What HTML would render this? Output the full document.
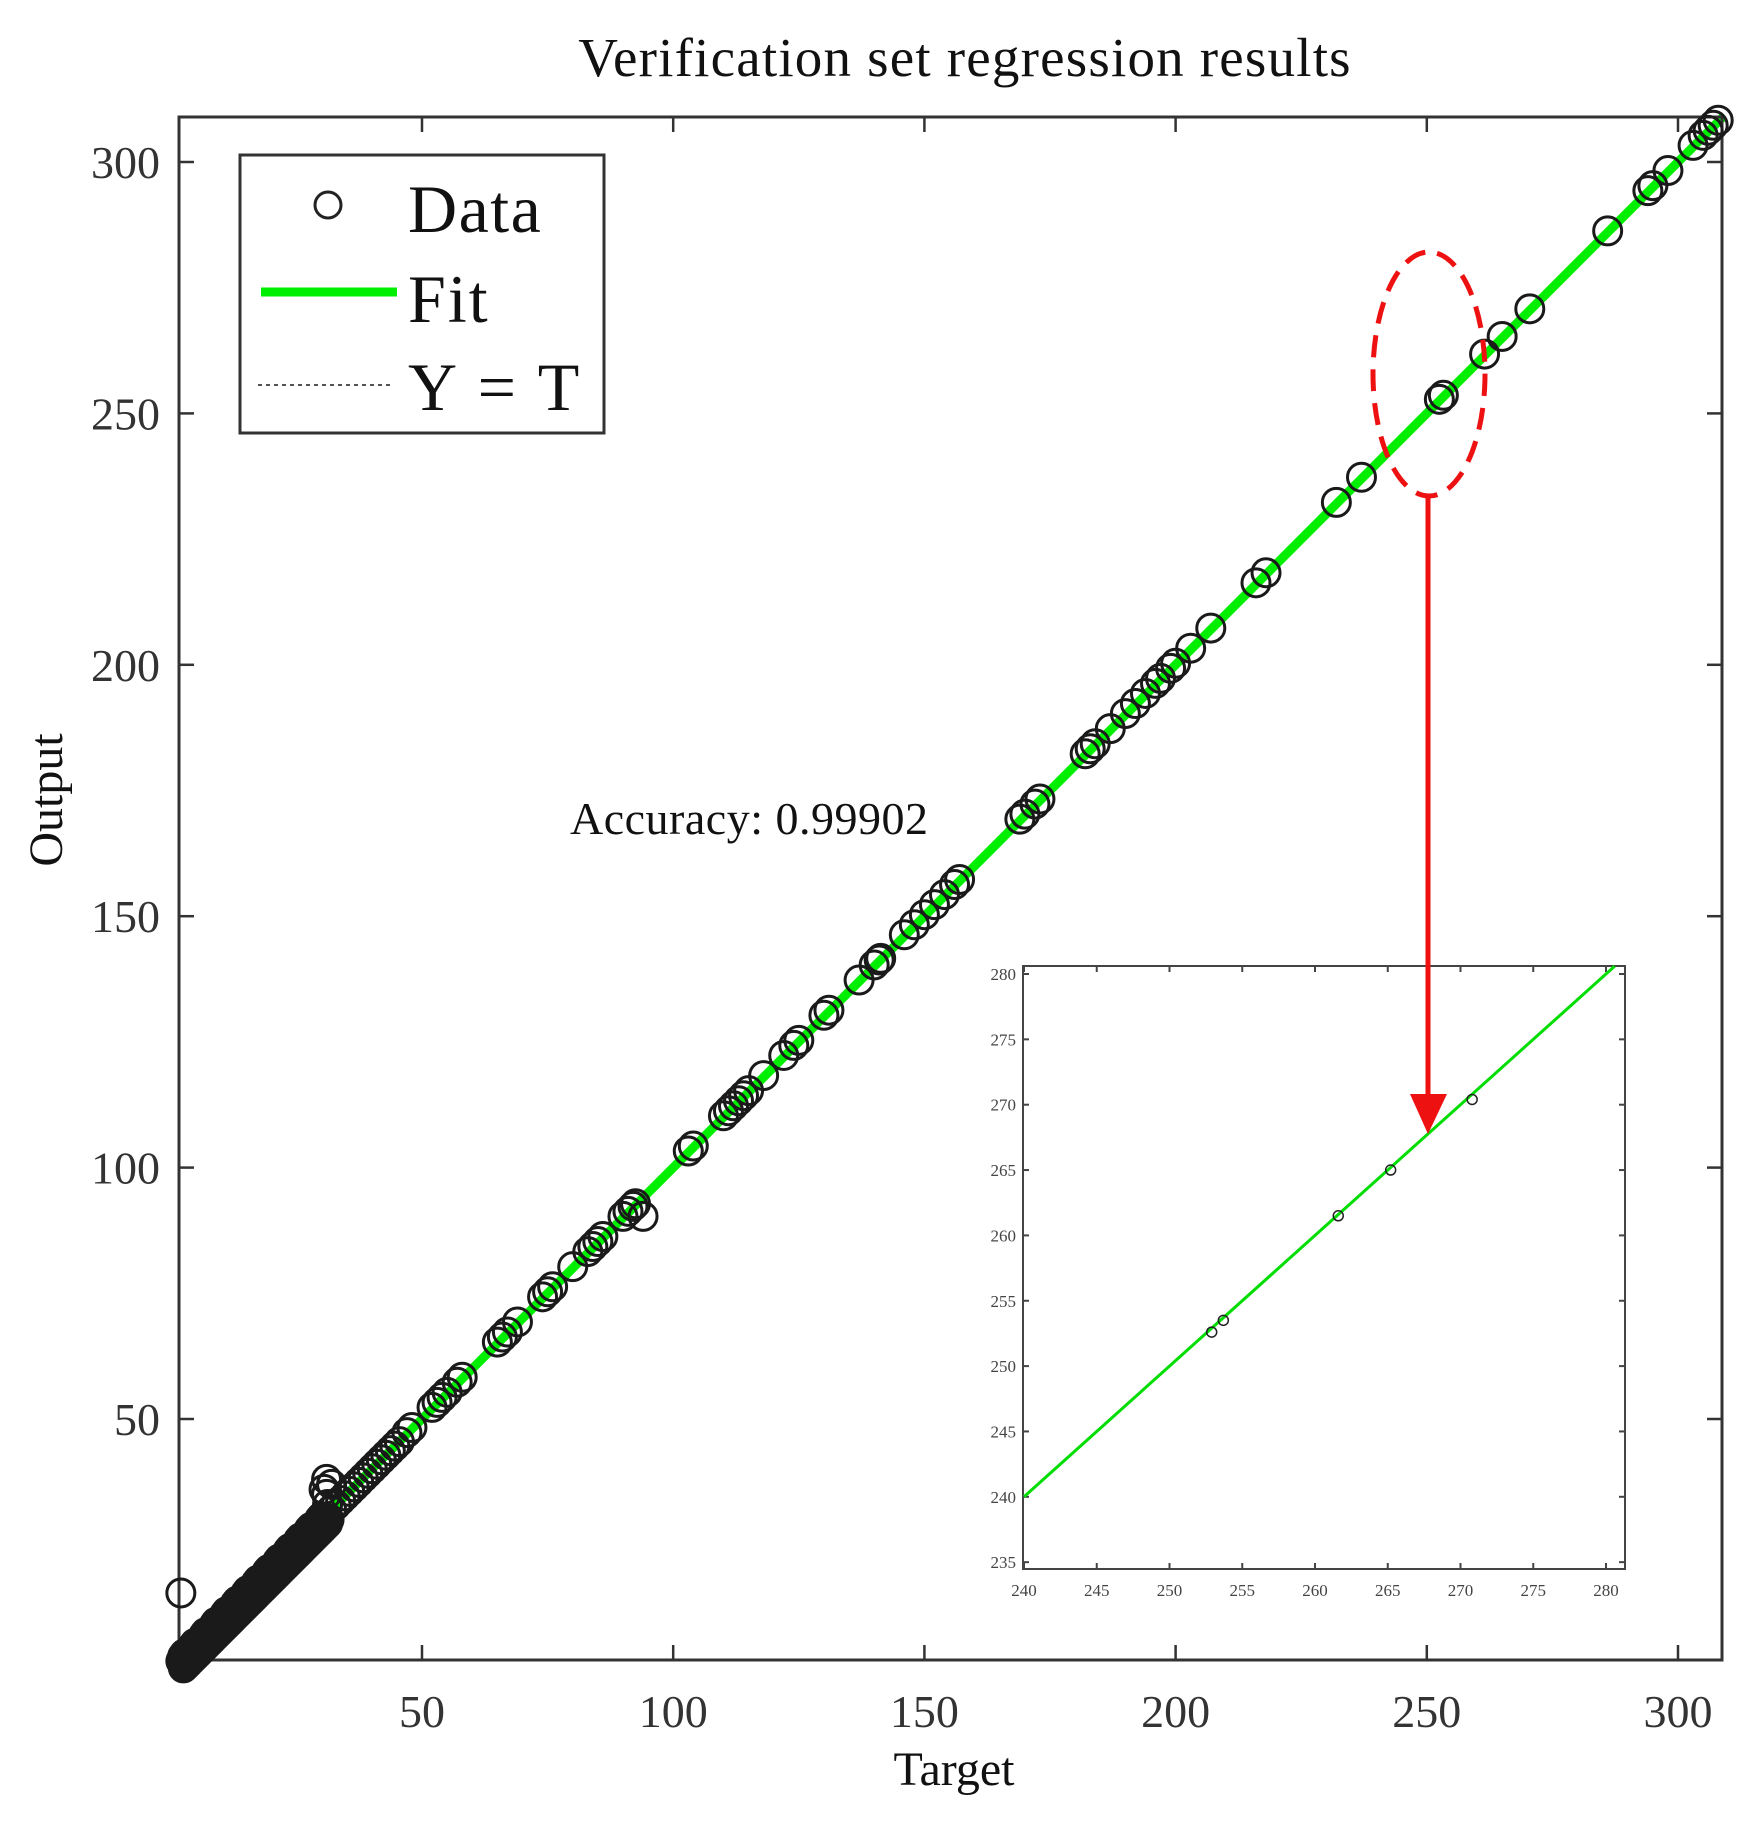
<!DOCTYPE html>
<html><head><meta charset="utf-8"><style>
html,body{margin:0;padding:0;background:#fff;}
svg{display:block;}
text{font-family:"Liberation Serif",serif;}
</style></head><body>
<svg id="s" width="1764" height="1822" viewBox="0 0 1764 1822" xmlns="http://www.w3.org/2000/svg">
<text x="965" y="76" font-size="55" text-anchor="middle" fill="#111" letter-spacing="1.2">Verification set regression results</text>
<g id="main"></g>
<rect x="179" y="117" width="1543" height="1543" fill="none" stroke="#333" stroke-width="3"/>
<g id="ticks" stroke="#333" stroke-width="2.5"></g>
<g id="labels" font-size="46" fill="#333"></g>
<text x="954" y="1785" font-size="48" text-anchor="middle" fill="#111">Target</text>
<text transform="translate(62,800) rotate(-90)" font-size="48" text-anchor="middle" fill="#111">Output</text>
<text x="570" y="834" font-size="46" fill="#111" letter-spacing="0.5">Accuracy: 0.99902</text>
<g id="pts"></g>
<rect x="240" y="155" width="364" height="278" fill="#fff" stroke="#333" stroke-width="3"/>
<circle cx="328" cy="205" r="13" fill="none" stroke="#222" stroke-width="3"/>
<text x="408" y="232" font-size="68" fill="#111" letter-spacing="1.5">Data</text>
<line x1="261" y1="292" x2="397" y2="292" stroke="#00ee00" stroke-width="9"/>
<text x="408" y="322" font-size="68" fill="#111" letter-spacing="2">Fit</text>
<line x1="258" y1="385" x2="390" y2="385" stroke="#555" stroke-width="2" stroke-dasharray="4,4"/>
<text x="408" y="410" font-size="68" fill="#111" letter-spacing="3">Y = T</text>
<rect x="1023" y="966" width="602" height="603" fill="#fff" stroke="#444" stroke-width="2"/>
<g id="inset"></g>
<ellipse cx="1429" cy="374" rx="56" ry="122" fill="none" stroke="#ee1111" stroke-width="5" stroke-dasharray="22,12"/>
<line x1="1428" y1="494" x2="1428" y2="1100" stroke="#ee1111" stroke-width="5"/>
<polygon points="1410,1094 1447,1094 1428,1134" fill="#ee1111"/>
</svg>
<script>
var NS="http://www.w3.org/2000/svg";
function el(p,t,a,txt){var e=document.createElementNS(NS,t);for(var k in a)e.setAttribute(k,a[k]);if(txt!==undefined)e.textContent=txt;document.getElementById(p).appendChild(e);return e;}
function X(v){return 170.8+v*5.024;}
function Y(v){return 162+(300-v)*5.028;}
for(var v=50;v<=300;v+=50){
 el("ticks","line",{x1:X(v),y1:1660,x2:X(v),y2:1645});
 el("ticks","line",{x1:X(v),y1:117,x2:X(v),y2:132});
 el("ticks","line",{x1:179,y1:Y(v),x2:194,y2:Y(v)});
 el("ticks","line",{x1:1722,y1:Y(v),x2:1707,y2:Y(v)});
 el("labels","text",{x:X(v),y:1727,"text-anchor":"middle"},String(v));
 el("labels","text",{x:160,y:Y(v)+16,"text-anchor":"end"},String(v));
}
el("main","line",{x1:X(2),y1:Y(2),x2:X(309),y2:Y(309),stroke:"#00ee00","stroke-width":9});
var P=[[2,15.4],[31,38],[31,35],[31.5,30],[32,37],[30.5,36],[31.2,33]];
for(var t=2;t<=31;t+=0.35){P.push([t,t+(Math.sin(t*3)*0.6)]);P.push([t+0.2,t-0.4]);P.push([t+0.5,t-1.5]);}
for(var t=32;t<=46;t+=0.9)P.push([t,t]);
[47,48,52,53,54,55,57,58,65,66,67,69,74,75,76,80,83,84,85,86,90,91,92,92.5,103,104,110,111,112,113,114,115,118,122,124,125,130,131,137,140,141,141.3,146,148,150,152,154,156,157,169,170,172,173,182,183,184,187,190,192,194,196,197,199,200,203,207,216,218,232,237,252.5,253.3,261.5,265,270.5,286,294,295,298,303,305,306,307,308].forEach(function(t){P.push([t,t+0.3]);});
P.push([94,90.3]);
P.forEach(function(p){el("pts","circle",{cx:X(p[0]),cy:Y(p[1]),r:14,fill:"none",stroke:"#1a1a1a","stroke-width":3});});
function IX(v){return 1024+(v-240)*14.55;}
function IY(v){return 974+(280-v)*13.07;}
for(var v=240;v<=280;v+=5){
 el("inset","line",{x1:IX(v),y1:1569,x2:IX(v),y2:1563,stroke:"#444","stroke-width":2});
 el("inset","line",{x1:IX(v),y1:966,x2:IX(v),y2:972,stroke:"#444","stroke-width":2});
 el("inset","text",{x:IX(v),y:1596,"font-size":17,"text-anchor":"middle",fill:"#444"},String(v));
}
for(var v=235;v<=280;v+=5){
 el("inset","line",{x1:1023,y1:IY(v),x2:1029,y2:IY(v),stroke:"#444","stroke-width":2});
 el("inset","line",{x1:1625,y1:IY(v),x2:1619,y2:IY(v),stroke:"#444","stroke-width":2});
 el("inset","text",{x:1016,y:IY(v)+6,"font-size":17,"text-anchor":"end",fill:"#444"},String(v));
}
el("inset","line",{x1:IX(240),y1:IY(240),x2:IX(280.6),y2:IY(280.6),stroke:"#00dd00","stroke-width":3});
[[252.9,252.6],[253.7,253.5],[261.6,261.5],[265.2,265],[270.8,270.4]].forEach(function(p){
 el("inset","circle",{cx:IX(p[0]),cy:IY(p[1]),r:5,fill:"none",stroke:"#222","stroke-width":1.5});});
</script>
</body></html>
